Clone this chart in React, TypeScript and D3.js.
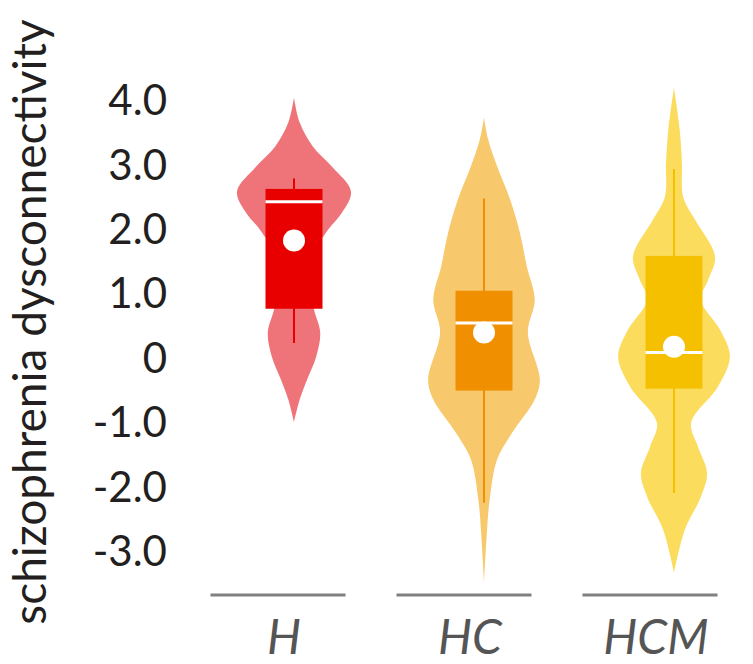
import { useRef, useEffect } from 'react';
import * as d3 from 'd3';

const groups = ['H', 'HC', 'HCM'];
const yTicks = [4, 3, 2, 1, 0, -1, -2, -3];

// violin density profiles: [value, relative density]
const densityH = [
  [4.04, 0], [3.65, 0.1], [3.28, 0.33], [2.97, 0.66], [2.58, 1.0], [2.25, 0.84],
  [1.99, 0.6], [1.63, 0.35], [1.21, 0.25], [0.75, 0.35], [0.39, 0.46], [0.02, 0.39],
  [-0.34, 0.23], [-0.65, 0.1], [-1.0, 0],
];
const densityHC = [
  [3.73, 0], [3.4, 0.07], [2.97, 0.23], [2.45, 0.46], [1.94, 0.63], [1.42, 0.75],
  [0.9, 0.89], [0.39, 0.77], [-0.34, 0.98], [-0.65, 0.89], [-1.17, 0.49], [-1.58, 0.23],
  [-2.2, 0.1], [-2.72, 0.05], [-3.5, 0],
];
const densityHCM = [
  [4.19, 0], [3.54, 0.1], [3.03, 0.14], [2.5, 0.16], [2.14, 0.37], [1.57, 0.72],
  [1.21, 0.6], [0.9, 0.47], [0.43, 0.81], [0.02, 0.98], [-0.45, 0.77], [-1.01, 0.3],
  [-1.38, 0.42], [-1.79, 0.58], [-2.16, 0.47], [-2.67, 0.19], [-3.34, 0],
];

// box stats: whisker low, q1, median, q3, whisker high, mean
const statsH = [0.23, 0.76, 2.42, 2.62, 2.78, 1.82];
const statsHC = [-2.25, -0.51, 0.54, 1.04, 2.47, 0.39];
const statsHCM = [-2.1, -0.48, 0.08, 1.58, 2.93, 0.17];

const violinColors = ['#ef7479', '#f8c96c', '#fcdc5d'];
const boxColors = ['#e80000', '#f09000', '#f5c000'];

export default function App() {
  const svgRef = useRef(null);

  useEffect(() => {
    const w = 753;
    const h = 664;
    const svg = d3.select(svgRef.current)
      .attr('width', w)
      .attr('height', h)
      .style('background', '#fff');
    svg.selectAll('*').remove();

    const densities = [densityH, densityHC, densityHCM];
    const stats = [statsH, statsHC, statsHCM];

    const yScale = d3.scaleLinear().domain([-3, 4]).range([551, 100]);
    const xScale = d3.scalePoint().domain(groups).range([294, 674]);
    const lineScale = d3.scalePoint().domain(groups).range([278, 650]);
    const widthScale = d3.scaleLinear().domain([0, 1]).range([0, 57]);
    const boxHalf = 28.5;

    // y axis title
    svg.append('text')
      .attr('transform', `translate(46, 322) rotate(-90)`)
      .attr('text-anchor', 'middle')
      .style('font-family', 'Lato, sans-serif')
      .style('font-size', '46px')
      .style('fill', '#231f20')
      .text('schizophrenia dysconnectivity');

    // tick labels
    svg.append('g')
      .selectAll('text')
      .data(yTicks)
      .join('text')
      .attr('x', 167)
      .attr('y', d => yScale(d))
      .attr('dy', '0.36em')
      .attr('text-anchor', 'end')
      .style('font-family', 'Lato, sans-serif')
      .style('font-size', '42px')
      .style('fill', '#231f20')
      .text(d => (d === 0 ? '0' : d.toFixed(1)));

    groups.forEach((g, i) => {
      const cx = xScale(g);
      const area = d3.area()
        .y(d => yScale(d[0]))
        .x0(d => cx - widthScale(d[1]))
        .x1(d => cx + widthScale(d[1]))
        .curve(d3.curveCatmullRom.alpha(0.5));

      svg.append('path')
        .attr('d', area(densities[i]))
        .attr('fill', violinColors[i]);

      const [lo, q1, med, q3, hi, mean] = stats[i];

      svg.append('line')
        .attr('x1', cx).attr('x2', cx)
        .attr('y1', yScale(lo)).attr('y2', yScale(hi))
        .attr('stroke', boxColors[i])
        .attr('stroke-width', 2);

      svg.append('rect')
        .attr('x', cx - boxHalf)
        .attr('width', boxHalf * 2)
        .attr('y', yScale(q3))
        .attr('height', yScale(q1) - yScale(q3))
        .attr('fill', boxColors[i]);

      svg.append('line')
        .attr('x1', cx - boxHalf).attr('x2', cx + boxHalf)
        .attr('y1', yScale(med)).attr('y2', yScale(med))
        .attr('stroke', '#fff')
        .attr('stroke-width', 3);

      svg.append('circle')
        .attr('cx', cx)
        .attr('cy', yScale(mean))
        .attr('r', 11)
        .attr('fill', '#fff');

      // baseline segment + label
      const lx = lineScale(g);
      svg.append('line')
        .attr('x1', lx - 67.5).attr('x2', lx + 67.5)
        .attr('y1', 595).attr('y2', 595)
        .attr('stroke', '#808080')
        .attr('stroke-width', 3);

      svg.append('text')
        .attr('x', lx + 6)
        .attr('y', 654)
        .attr('text-anchor', 'middle')
        .style('font-family', 'Lato, sans-serif')
        .style('font-style', 'italic')
        .style('font-size', '48px')
        .style('fill', '#555')
        .text(g);
    });
  }, []);

  return <svg ref={svgRef} style={{ position: 'absolute', left: 0, top: 0 }}></svg>;
}
